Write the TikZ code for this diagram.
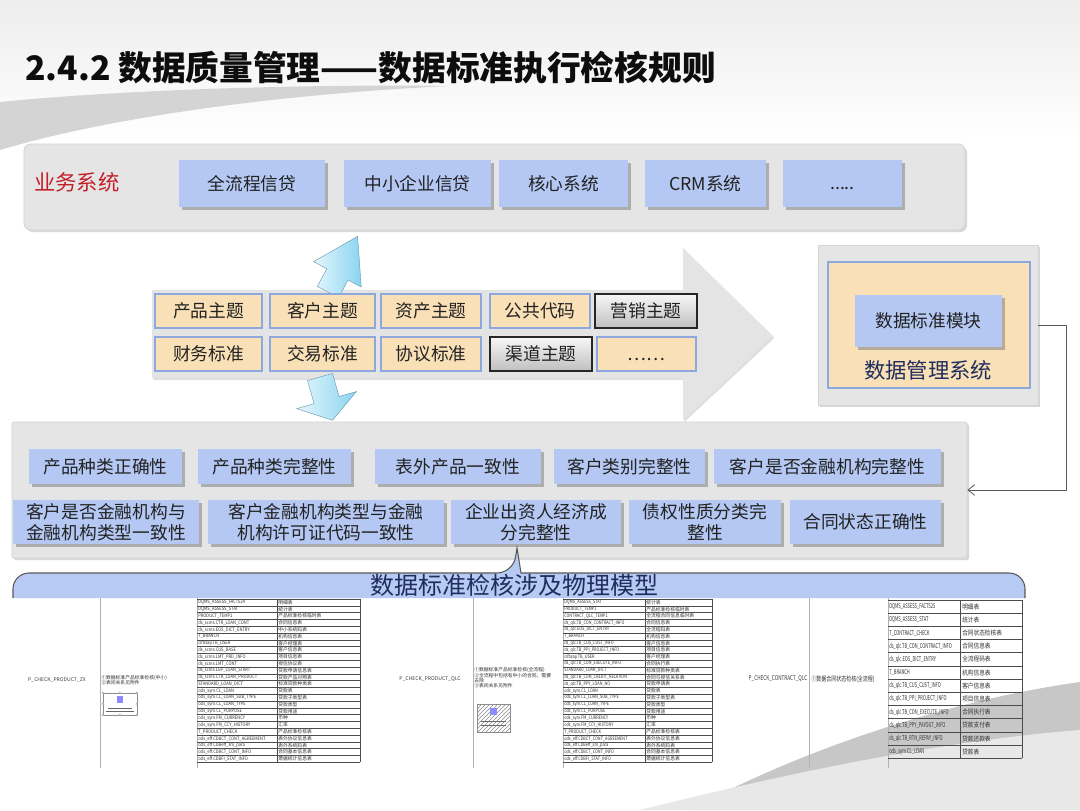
\documentclass[tikz,border=0pt]{standalone}
\usepackage{fontspec}
\setmainfont{Noto Sans CJK SC}
\usetikzlibrary{shadows,arrows.meta,patterns}
\definecolor{boxblue}{RGB}{180,200,243}
\definecolor{boxtan}{RGB}{249,224,182}
\definecolor{tanborder}{RGB}{140,168,222}
\definecolor{panel}{RGB}{229,229,229}
\definecolor{panelborder}{RGB}{212,212,212}
\definecolor{redlbl}{RGB}{196,30,40}
\definecolor{navy}{RGB}{31,45,95}
\definecolor{txt}{RGB}{34,34,34}
\definecolor{cyanA}{RGB}{228,247,253}
\definecolor{cyanB}{RGB}{138,212,240}
\definecolor{arrowgray}{RGB}{228,228,228}
\definecolor{hdrblue}{RGB}{182,202,243}
\definecolor{swoosh}{RGB}{212,212,212}
\newcommand\mybox[7]{\node[#2, minimum width={(#5-#3)*0.75pt}, minimum height={(#6-#4)*0.75pt}] (#1) at ({(#3+#5)/2},{(#4+#6)/2}) {#7};}
\begin{document}
\begin{tikzpicture}[x=0.75pt,y=-0.75pt,
  every node/.style={inner sep=0pt},
  panelbox/.style={fill=panel, draw=panelborder, line width=0.6pt, drop shadow={shadow xshift=1.5pt,shadow yshift=-1.5pt,opacity=.3}},
  bluebox/.style={fill=boxblue, text=txt, font=\fontsize{13.3}{16}\selectfont, align=center, drop shadow={shadow xshift=2pt,shadow yshift=-2pt,opacity=.55}},
  tanbox/.style={fill=boxtan, draw=tanborder, line width=0.9pt, text=txt, font=\fontsize{13.3}{16}\selectfont},
  greybox/.style={top color=black!3, bottom color=black!25, draw=black!85, line width=0.9pt, text=txt, font=\fontsize{13.3}{16}\selectfont, drop shadow={shadow xshift=1pt,shadow yshift=-1pt,opacity=.4}},
  tt/.style={font=\fontsize{3.6}{4}\selectfont, text=black!80, anchor=west},
  tt3/.style={font=\fontsize{5}{6}\selectfont, text=black!80, anchor=west},
  tline/.style={draw=black!70, line width=0.35pt},
  vline/.style={draw=black!30, line width=0.4pt},
  conn/.style={draw=black!65, line width=0.6pt, -{Straight Barb[length=5pt,width=8pt]}},
]
\useasboundingbox (0,0) rectangle (1080,810);
% background
\fill[white] (0,0) rectangle (1080,810);
\shade[top color=black!7, bottom color=white] (0,0) rectangle (1080,140);
\fill[swoosh] (0,150) -- (0,102) .. controls (120,90) and (300,84) .. (450,86) .. controls (300,93) and (120,114) .. (0,150) -- cycle;
\fill[black!22] (690,810) .. controls (800,750) and (950,700) .. (1080,682) -- (1080,810) -- cycle;
\fill[black!9] (640,810) .. controls (800,770) and (950,740) .. (1080,730) -- (1080,810) -- cycle;

% title
\node[anchor=base west, font=\fontsize{25.3}{28}\selectfont\bfseries, text=black!95] (title) at (25,80) {2.4.2 数据质量管理——数据标准执行检核规则};

% top panel
\mybox{sys}{panelbox, rounded corners=5pt}{24}{144}{965}{230}{}
\node[anchor=west, font=\fontsize{16}{18}\selectfont, text=redlbl] (syslbl) at (34,182) {业务系统};
\mybox{s1}{bluebox}{179}{160}{325}{207}{全流程信贷}
\mybox{s2}{bluebox}{344}{160}{491}{207}{中小企业信贷}
\mybox{s3}{bluebox}{499}{160}{628}{207}{核心系统}
\mybox{s4}{bluebox}{645}{160}{766}{207}{CRM系统}
\mybox{s5}{bluebox}{783}{160}{902}{207}{\vphantom{国}.....}

% big arrow
\fill[arrowgray, drop shadow={shadow xshift=1pt,shadow yshift=-1.5pt,opacity=.25}] (152,290) -- (683,290) -- (683,248) -- (773,336) -- (683,420) -- (683,378) -- (152,378) -- cycle;

% cyan arrows
\begin{scope}[shift={(328,292)}, rotate=62]
\shade[left color=cyanA, right color=cyanB, draw=cyanB!70!black, line width=0.3pt] (0,-12) -- (20,-12) -- (20,-27) -- (63,0) -- (20,27) -- (20,12) -- (0,12) -- cycle;
\end{scope}
\begin{scope}[shift={(320,377)}, rotate=-74]
\shade[left color=cyanA, right color=cyanB, draw=cyanB!70!black, line width=0.3pt] (0,-13) -- (24,-13) -- (24,-31) -- (45,0) -- (24,31) -- (24,13) -- (0,13) -- cycle;
\end{scope}

% subject boxes
\mybox{t1}{tanbox}{155}{294}{262}{328}{产品主题}
\mybox{t2}{tanbox}{270}{294}{375}{328}{客户主题}
\mybox{t3}{tanbox}{381}{294}{481}{328}{资产主题}
\mybox{t4}{tanbox}{490}{294}{590}{328}{公共代码}
\mybox{t5}{greybox}{595}{294}{697}{328}{营销主题}
\mybox{t6}{tanbox}{155}{337}{262}{371}{财务标准}
\mybox{t7}{tanbox}{270}{337}{375}{371}{交易标准}
\mybox{t8}{tanbox}{381}{337}{481}{371}{协议标准}
\mybox{t9}{greybox}{490}{337}{592}{371}{渠道主题}
\mybox{t10}{tanbox}{597}{337}{696}{371}{\vphantom{国}……}

% data management system
\mybox{dms}{panelbox}{818}{245}{1038}{405}{}
\mybox{dmsin}{fill=boxtan, draw=tanborder, line width=0.8pt}{828}{262}{1030}{388}{}
\mybox{dmsmod}{bluebox}{855}{295}{1002}{347}{数据标准模块}
\node[font=\fontsize{16}{18}\selectfont, text=navy] (dmslbl) at (928,370) {数据管理系统};

% check rules panel
\mybox{chk}{panelbox, rounded corners=1pt}{12}{422}{967}{558}{}
\mybox{c1}{bluebox}{29}{449}{182}{484}{产品种类正确性}
\mybox{c2}{bluebox}{198}{449}{351}{484}{产品种类完整性}
\mybox{c3}{bluebox}{375}{449}{541}{484}{表外产品一致性}
\mybox{c4}{bluebox}{554}{449}{705}{484}{客户类别完整性}
\mybox{c5}{bluebox}{714}{449}{941}{484}{客户是否金融机构完整性}
\mybox{c6}{bluebox, font=\fontsize{13.3}{15.8}\selectfont}{13}{500}{199}{544}{客户是否金融机构与\\金融机构类型一致性}
\mybox{c7}{bluebox, font=\fontsize{13.3}{15.8}\selectfont}{208}{500}{444}{544}{客户金融机构类型与金融\\机构许可证代码一致性}
\mybox{c8}{bluebox, font=\fontsize{13.3}{15.8}\selectfont}{451}{500}{621}{544}{企业出资人经济成\\分完整性}
\mybox{c9}{bluebox, font=\fontsize{13.3}{15.8}\selectfont}{629}{500}{781}{544}{债权性质分类完\\整性}
\mybox{c10}{bluebox}{790}{500}{941}{544}{合同状态正确性}

% connector
\draw[conn] (dms.east) -- ++(28,0) |- (chk.east);

% header callout
\filldraw[fill=hdrblue, draw=black!65, line width=0.8pt] (13,598) [rounded corners=12pt] -- (13,573) -- (513,573) [sharp corners] -- (517,548) -- (521,573) -- (1000,573) [rounded corners=12pt] -- (1025,573) -- (1025,598);
\node[font=\fontsize{18}{20}\selectfont, text=navy] (hdr) at (514,585) {数据标准检核涉及物理模型};

% ---------- table 1 ----------
\draw[vline] (100,598) -- (100,768);
\draw[vline] (197,598) -- (197,768);
\node[font=\fontsize{3.8}{4}\selectfont, text=black!75] (p1) at (57,680) {P\_CHECK\_PRODUCT\_ZX};
\node[tt, align=left] (q1) at (101,680) {①数据标准产品标准检核(中小)\\②表间关系见附件};
\draw[black!45, line width=0.3pt] (103,693) rectangle (137,715);
\foreach \p [count=\k] in {(103,693),(120,693),(137,693),(103,704),(137,704),(103,715),(120,715),(137,715)} {\draw[black!50, fill=white, line width=0.2pt] \p circle (1.2);}
\fill[blue!45] (117,696) rectangle (123,703);
\draw[black!60, line width=0.4pt] (108,708) -- (132,708) (106,711) -- (134,711);
\foreach \a/\b [count=\i] in {DQMS\_ASSESS\_FACTS24/明细表, DQMS\_ASSESS\_STAT/统计表, PRODUCT\_TEMP1/产品标准检核临时表, ds\_scms.CTR\_LOAN\_CONT/合同信息表, ds\_scms.EOS\_DICT\_ENTRY/中小系统码表, T\_BRANCH/机构信息表, cifbsap.TB\_USER/客户经理表, ds\_scms.CUS\_BASE/客户信息表, ds\_scms.LMT\_PRD\_INFO/项目信息表, ds\_scms.LMT\_CONT/授信协议表, ds\_scms.LGP\_LOAN\_START/贷款申请信息表, ds\_scms.CTR\_LOAN\_PRODUCT/贷款产品对照表, STANDARD\_LOAN\_DICT/标准贷款种类表, ods\_sym.CL\_LOAN/贷款表, ods\_sym.CL\_LOAN\_SUB\_TYPE/贷款子类型表, ods\_sym.CL\_LOAN\_TYPE/贷款类型, ods\_sym.CL\_PURPOSE/贷款用途, ods\_sym.FM\_CURRENCY/币种, ods\_sym.FM\_CCY\_HISTORY/汇率, T\_PRODUCT\_CHECK/产品标准检核表, ods\_eff.CDBCT\_CONT\_AGREEMENT/表外协议信息表, ods\_eff.CDBeff\_sm\_para/表外系统码表, ods\_eff.CDBCT\_CONT\_INFO/合同基本信息表, ods\_eff.CDBFI\_STAT\_INFO/票据统计信息表} {
  \node[tt] (ta\i) at (198,{599+(\i-0.5)*6.8}) {\scalebox{0.85}[1]{\a}};
  \node[tt] (tb\i) at (278,{599+(\i-0.5)*6.8}) {\b};
  \draw[tline] (197,{599+\i*6.8}) -- (360,{599+\i*6.8});
}
\draw[tline] (197,599) -- (360,599);
\draw[tline] (277,599) -- (277,762.2) (360,599) -- (360,762.2);

% ---------- table 2 ----------
\draw[vline] (473,598) -- (473,768);
\draw[vline] (563,598) -- (563,768);
\node[font=\fontsize{3.8}{4}\selectfont, text=black!75] (p2) at (430,679) {P\_CHECK\_PRODUCT\_QLC};
\node[tt, align=left] (q2) at (474,678) {①数据标准产品标准检核(全流程)\\②全流程中包括有中小的合同，需要\\去除\\③表间关系见附件};
\fill[pattern=north east lines, pattern color=black!45] (477,704) rectangle (510,732);
\draw[black!45, line width=0.3pt] (477,704) rectangle (510,732);
\fill[blue!45] (490,708) rectangle (497,715);
\draw[black!60, line width=0.4pt] (481,721) -- (506,721) (481,725) -- (506,725);
\foreach \a/\b [count=\i] in {DQMS\_ASSESS\_STAT/统计表, PRODUCT\_TEMP1/产品标准检核临时表, CONTRACT\_QLC\_TEMP1/全流程合同信息临时表, ds\_qlc.TB\_CON\_CONTRACT\_INFO/合同信息表, ds\_qlc.EOS\_DICT\_ENTRY/全流程码表, T\_BRANCH/机构信息表, ds\_qlc.TB\_CUS\_CUST\_INFO/客户信息表, ds\_qlc.TB\_PPI\_PROJECT\_INFO/项目信息表, cifbsap.TB\_USER/客户经理表, ds\_qlc.TB\_CON\_EXECUTE\_INFO/合同执行表, STANDARD\_LOAN\_DICT/标准贷款种类表, ds\_qlc.TB\_CON\_CREDIT\_RELATION/合同与授信关系表, ds\_qlc.TB\_PPY\_LOAN\_NO/贷款申请表, ods\_sym.CL\_LOAN/贷款表, ods\_sym.CL\_LOAN\_SUB\_TYPE/贷款子类型表, ods\_sym.CL\_LOAN\_TYPE/贷款类型, ods\_sym.CL\_PURPOSE/贷款用途, ods\_sym.FM\_CURRENCY/币种, ods\_sym.FM\_CCY\_HISTORY/汇率, T\_PRODUCT\_CHECK/产品标准检核表, ods\_eff.CDBCT\_CONT\_AGREEMENT/表外协议信息表, ods\_eff.CDBeff\_sm\_para/表外系统码表, ods\_eff.CDBCT\_CONT\_INFO/合同基本信息表, ods\_eff.CDBFI\_STAT\_INFO/票据统计信息表} {
  \node[tt] (tc\i) at (564,{599+(\i-0.5)*6.8}) {\scalebox{0.8}[1]{\a}};
  \node[tt] (td\i) at (646,{599+(\i-0.5)*6.8}) {\b};
  \draw[tline] (563,{599+\i*6.8}) -- (712,{599+\i*6.8});
}
\draw[tline] (563,599) -- (712,599);
\draw[tline] (645,599) -- (645,762.2) (712,599) -- (712,762.2);

% ---------- table 3 ----------
\draw[vline] (809,598) -- (809,768);
\draw[vline] (888,598) -- (888,768);
\node[font=\fontsize{5}{6}\selectfont, text=black!75] (p3) at (778,679) {\scalebox{0.7}[1]{P\_CHECK\_CONTRACT\_QLC}};
\node[tt3] (q3) at (811,679) {\scalebox{0.75}[1]{①数据合同状态检核(全流程)}};
\foreach \a/\b [count=\i] in {DQMS\_ASSESS\_FACTS25/明细表, DQMS\_ASSESS\_STAT/统计表, T\_CONTRACT\_CHECK/合同状态检核表, ds\_qlc.TB\_CON\_CONTRACT\_INFO/合同信息表, ds\_qlc.EOS\_DICT\_ENTRY/全流程码表, T\_BRANCH/机构信息表, ds\_qlc.TB\_CUS\_CUST\_INFO/客户信息表, ds\_qlc.TB\_PPI\_PROJECT\_INFO/项目信息表, ds\_qlc.TB\_CON\_EXECUTE\_INFO/合同执行表, ds\_qlc.TB\_PPY\_PAYOUT\_INFO/贷款支付表, ds\_qlc.TB\_RTN\_REPAY\_INFO/贷款还款表, ods\_sym.CL\_LOAN/贷款表} {
  \node[tt3] (te\i) at (889,{600+(\i-0.5)*13.2}) {\scalebox{0.6}[1]{\a}};
  \node[tt3] (tf\i) at (962,{600+(\i-0.5)*13.2}) {\scalebox{0.85}[1]{\b}};
  \draw[tline, line width=0.5pt] (888,{600+\i*13.2}) -- (1022,{600+\i*13.2});
}
\draw[tline, line width=0.5pt] (888,600) -- (1022,600);
\draw[tline, line width=0.5pt] (960,600) -- (960,758.4) (1022,600) -- (1022,758.4);
\end{tikzpicture}
\end{document}
